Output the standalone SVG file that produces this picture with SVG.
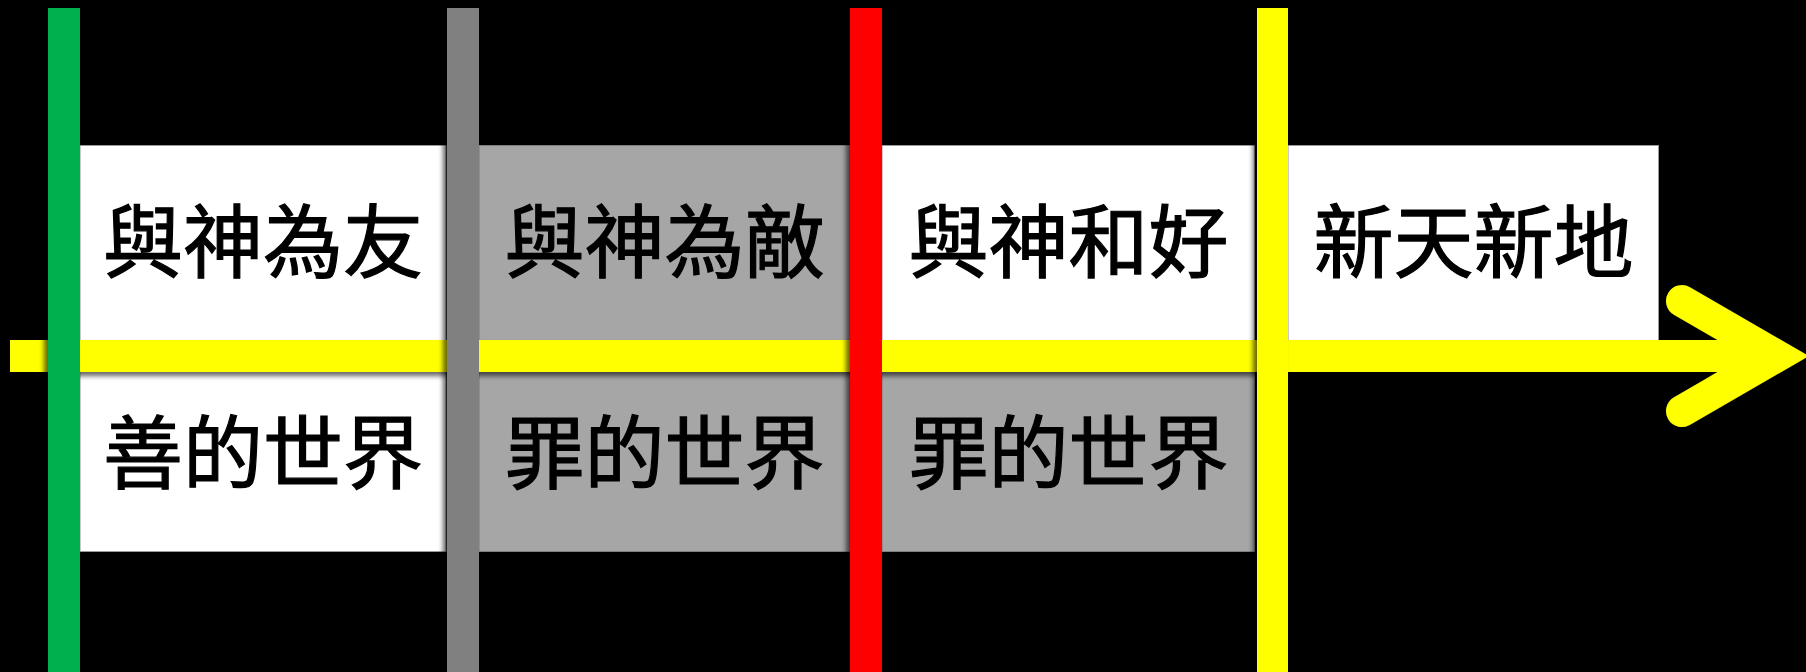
<svg xmlns="http://www.w3.org/2000/svg" width="1806" height="672" viewBox="0 0 1806 672">
  <style>
    .lbl { font-family: "Noto Sans CJK TC", "Noto Sans CJK SC", sans-serif; font-size: 80px; fill: #000; stroke: #000; stroke-width: 1.2px; text-anchor: middle; }
    .white { fill: #FFFFFF; stroke: #9a9a9a; stroke-width: 1; }
    .gray { fill: #A6A6A6; stroke: #7f7f7f; stroke-width: 1; }
  </style>
  <defs>
    <filter id="shDown" x="-5%" y="-50%" width="110%" height="200%">
      <feGaussianBlur in="SourceAlpha" stdDeviation="2.5"/>
      <feOffset dx="0" dy="4" result="b"/>
      <feComponentTransfer><feFuncA type="linear" slope="0.6"/></feComponentTransfer>
      <feMerge><feMergeNode/><feMergeNode in="SourceGraphic"/></feMerge>
    </filter>
    <filter id="shLeft" x="-50%" y="-5%" width="200%" height="110%">
      <feGaussianBlur in="SourceAlpha" stdDeviation="2.5"/>
      <feOffset dx="-4" dy="0" result="b"/>
      <feComponentTransfer><feFuncA type="linear" slope="0.6"/></feComponentTransfer>
      <feMerge><feMergeNode/><feMergeNode in="SourceGraphic"/></feMerge>
    </filter>
  </defs>
  <rect x="0" y="0" width="1806" height="672" fill="#000"/>

  <g id="era1">
    <rect class="white" x="80" y="145.5" width="366" height="406"/>
    <text class="lbl" x="263" y="271">與神為友</text>
    <text class="lbl" x="263" y="482">善的世界</text>
  </g>
  <g id="era2">
    <rect class="gray" x="479" y="145.5" width="371" height="406"/>
    <text class="lbl" x="664.5" y="271">與神為敵</text>
    <text class="lbl" x="664.5" y="482">罪的世界</text>
  </g>
  <g id="era3">
    <rect class="white" x="882" y="145.5" width="372.5" height="210"/>
    <rect class="gray" x="882" y="356" width="372.5" height="195.5"/>
    <text class="lbl" x="1068.5" y="271">與神和好</text>
    <text class="lbl" x="1068.5" y="482">罪的世界</text>
  </g>
  <g id="era4">
    <rect class="white" x="1288" y="145.5" width="370.5" height="200"/>
    <text class="lbl" x="1473.5" y="271">新天新地</text>
  </g>

  <g id="connectors">
    <g id="timeline" filter="url(#shDown)">
      <rect x="10" y="340" width="1767" height="32" fill="#FFFF00"/>
      <polyline points="1682,301 1777,356 1682,411" fill="none" stroke="#FFFF00" stroke-width="32" stroke-linecap="round" stroke-linejoin="miter" stroke-miterlimit="10"/>
    </g>
  </g>

  <g id="dividers" filter="url(#shLeft)">
    <rect id="div-green" x="48" y="8" width="32" height="664" fill="#00B050"/>
    <rect id="div-gray" x="447" y="8" width="32" height="664" fill="#808080"/>
    <rect id="div-red" x="850" y="8" width="32" height="664" fill="#FF0000"/>
    <rect id="div-yellow" x="1257" y="8" width="31" height="664" fill="#FFFF00"/>
  </g>
</svg>
